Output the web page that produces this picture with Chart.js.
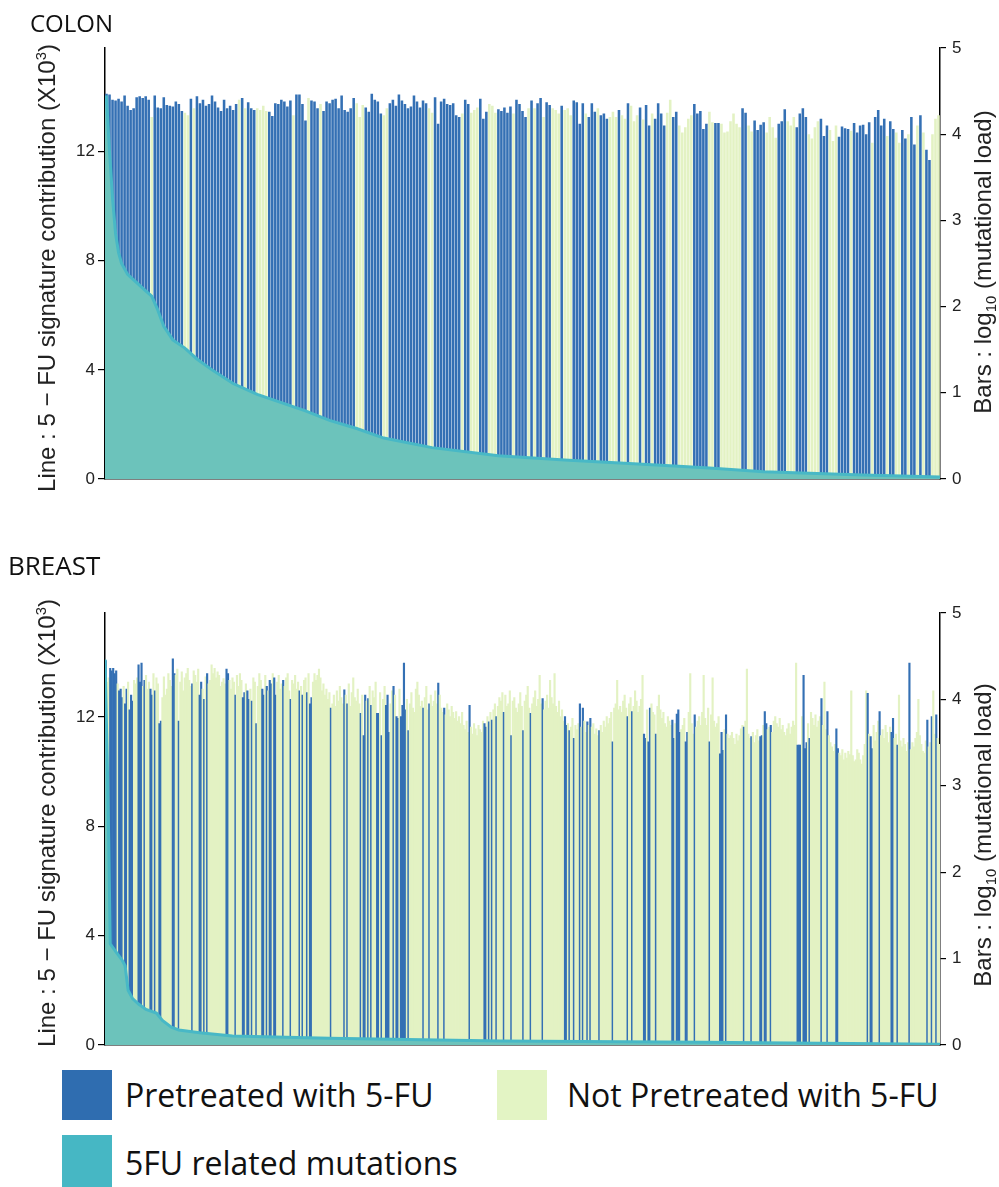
<!DOCTYPE html>
<html>
<head>
<meta charset="utf-8">
<script src="https://cdn.jsdelivr.net/npm/chart.js@4.4.1/dist/chart.umd.min.js"></script>
<style>
  body { margin: 0; width: 999px; height: 1187px; background: #fff; position: relative; overflow: hidden; }
  canvas { position: absolute; left: 0; }
  .panel { position: absolute; font-family: "Open Sans", sans-serif; line-height: 1; color: #111; }
  .ytitle { position: absolute; white-space: nowrap; font-family: "Liberation Sans", Arial, sans-serif; font-size: 24px; line-height: 1; color: #222;
            transform: translate(-50%, -50%) rotate(-90deg); }
  .ytitle sup, .ytitle sub { font-size: 0.62em; }
  .key { position: absolute; width: 50px; height: 50px; }
  .keytext { position: absolute; font-family: "Open Sans", sans-serif; font-size: 32px; line-height: 1; color: #111; white-space: nowrap; transform: translateY(-50%); }
</style>
</head>
<body>
<canvas id="colon" width="999" height="500" style="top:0"></canvas>
<canvas id="breast" width="999" height="501" style="top:565px"></canvas>

<div class="panel" style="left:30px; top:11px; font-size:24px">COLON</div>
<div class="panel" style="left:8px; top:552px; font-size:26px">BREAST</div>

<div class="ytitle" style="left:46px; top:268px">Line : 5 − FU signature contribution (X10<sup>3</sup>)</div>
<div class="ytitle" style="left:985px; top:262px">Bars : log<sub>10</sub> (mutational load)</div>
<div class="ytitle" style="left:46px; top:823px">Line : 5 − FU signature contribution (X10<sup>3</sup>)</div>
<div class="ytitle" style="left:985px; top:835px">Bars : log<sub>10</sub> (mutational load)</div>

<div class="key" style="left:62px; top:1070px; background:#2f6db0"></div>
<div class="keytext" style="left:125px; top:1095px">Pretreated with 5-FU</div>
<div class="key" style="left:497px; top:1070px; background:#e3f4c4"></div>
<div class="keytext" style="left:567px; top:1095px">Not Pretreated with 5-FU</div>
<div class="key" style="left:62px; top:1135px; height:52px; background:#46b7c4"></div>
<div class="keytext" style="left:125px; top:1163px">5FU related mutations</div>

<script>
// axis ticks
var leftTicks = [0, 4, 8, 12];
var rightTicks = [0, 1, 2, 3, 4, 5];

// COLON: log10 mutational load per sample (bars)
var colonLoad = [
  4.47,4.46,4.40,4.39,4.41,4.38,4.45,4.33,4.28,4.30,
  4.43,4.44,4.42,4.44,4.40,4.20,4.45,4.31,4.30,4.43,
  4.34,4.33,4.32,4.38,4.35,4.27,4.25,4.22,4.41,4.30,
  4.44,4.36,4.40,4.33,4.35,4.45,4.38,4.31,4.27,4.40,
  4.30,4.33,4.28,4.35,4.40,4.42,4.30,4.37,4.30,4.28,
  4.30,4.28,4.33,4.27,4.26,4.21,4.36,4.35,4.40,4.38,
  4.32,4.39,4.22,4.46,4.46,4.35,4.16,4.42,4.39,4.38,
  4.30,4.35,4.27,4.38,4.36,4.40,4.41,4.30,4.45,4.28,
  4.26,4.30,4.42,4.36,4.20,4.34,4.31,4.26,4.47,4.40,
  4.38,4.24,4.22,4.30,4.36,4.40,4.33,4.46,4.39,4.35,
  4.30,4.32,4.45,4.38,4.31,4.39,4.36,4.30,4.25,4.43,
  4.12,4.38,4.41,4.35,4.34,4.36,4.22,4.20,4.24,4.40,
  4.35,4.25,4.28,4.31,4.41,4.18,4.26,4.35,4.33,4.25,
  4.29,4.27,4.31,4.25,4.32,4.24,4.40,4.35,4.27,4.20,
  4.30,4.39,4.30,4.36,4.42,4.20,4.37,4.34,4.30,4.28,
  4.24,4.33,4.28,4.30,4.22,4.39,4.37,4.12,4.36,4.24,
  4.20,4.36,4.26,4.30,4.22,4.24,4.18,4.20,4.26,4.20,
  4.28,4.22,4.18,4.36,4.33,4.15,4.22,4.31,4.17,4.34,
  4.10,4.24,4.18,4.36,4.24,4.10,4.25,4.40,4.20,4.26,
  4.10,4.02,4.08,4.18,4.22,4.35,4.24,4.27,4.06,4.12,
  4.26,4.14,4.13,4.13,4.12,4.02,4.03,4.15,4.24,4.12,
  4.08,4.30,4.25,4.10,4.03,4.16,4.05,4.11,4.14,4.02,
  4.20,4.08,3.96,4.12,4.15,4.29,4.15,4.10,4.20,4.08,
  4.24,4.30,4.20,4.00,3.95,4.08,4.15,4.18,3.98,4.10,
  4.05,3.92,4.10,3.97,4.09,4.07,4.06,4.04,4.13,4.02,
  4.10,4.11,4.00,4.14,3.90,4.20,4.28,4.10,4.18,3.98,
  4.15,4.06,4.02,3.90,4.05,3.95,4.00,4.20,3.88,4.10,
  4.22,4.02,3.82,3.70,4.00,4.18,4.22
];
// B = pretreated with 5-FU, g = not pretreated
var colonPretreated =
  "BBBBBBBBBB" + "BBBBBgBBBB" + "BBBBBBggBg" + "BBBBBBBBBB" + "BBBBgBgBBB" +
  "ggggBBBBBB" + "BBgBBBBgBB" + "BgBBBBBBBB" + "BBBgggBBBB" + "BBggBBBBBB" +
  "BBBBBBBggB" + "BBBBBBBBgB" + "BgggBBBggg" + "BBBBBgBBBB" + "gBgBBgBBgg" +
  "gBgggBBBBg" + "BBBgBBBggg" + "BggBgggBgB" + "BgBBBBggBB" + "gggggBBBBB" +
  "ggBBgggggg" + "gBBggBBBBg" + "gggBBBgggB" + "BBBggggBBB" + "gggBBBBgBB" +
  "BBBBgBBBBg" + "BBggBBgBBg" + "BgBBggg";
// 5-FU signature contribution (x10^3) at sample positions
var colonLineIdx = [-0.5, 0, 1, 2, 3, 4, 5, 7, 10, 13, 15, 17, 19, 22, 26, 30, 35, 42, 50, 58, 66, 74, 83, 92, 108, 130, 152, 184, 200, 218, 251, 276.5];
var colonLineVal = [14.0, 14.0, 12.0, 10.3, 9.0, 8.3, 7.9, 7.5, 7.2, 6.9, 6.7, 6.2, 5.6, 5.1, 4.8, 4.4, 4.0, 3.5, 3.1, 2.8, 2.5, 2.15, 1.85, 1.5, 1.15, 0.85, 0.7, 0.5, 0.4, 0.27, 0.15, 0.07];

// BREAST
var breastLoad = [
  4.45,4.20,4.25,4.36,4.33,4.36,4.30,4.33,4.18,4.10,4.12,4.02,4.15,3.95,4.12,4.20,3.88,4.05,3.98,4.22,
  4.18,4.25,4.40,4.20,4.42,4.15,4.22,4.28,4.12,4.20,4.12,4.05,4.30,4.10,4.25,4.18,3.72,3.75,4.02,4.26,
  4.05,4.12,4.30,4.22,4.15,4.47,4.30,4.28,4.35,3.75,4.20,4.32,4.10,4.25,4.30,4.36,4.22,4.15,4.18,4.33,
  4.28,4.20,4.35,4.05,4.20,4.12,4.00,4.26,4.30,4.18,4.22,4.40,4.30,4.36,4.25,4.32,4.28,4.15,4.20,4.24,
  4.18,4.35,4.30,4.22,4.12,4.25,4.20,4.05,4.28,4.15,4.30,4.22,4.02,4.08,4.18,4.10,4.00,4.12,3.98,4.25,
  4.20,3.72,4.15,4.30,4.22,4.12,4.05,4.28,4.15,4.10,4.22,4.18,4.30,4.25,4.05,4.20,4.28,4.12,4.18,4.22,
  4.15,4.25,4.30,4.10,4.00,4.22,4.18,4.28,4.12,4.20,4.10,4.15,4.05,4.22,4.25,4.08,4.30,3.95,4.02,4.20,
  4.30,4.22,4.28,4.35,4.25,4.10,4.18,4.05,4.12,4.00,4.08,3.90,3.95,4.05,3.92,4.10,3.98,4.15,4.02,3.95,
  4.11,4.05,3.95,4.18,3.92,4.08,4.25,4.02,3.98,4.12,3.95,3.84,4.05,3.58,4.05,3.98,4.01,4.15,3.93,4.10,
  4.02,4.20,3.84,3.84,4.08,3.58,4.00,4.15,3.93,4.05,3.62,3.95,4.10,4.15,4.05,3.80,3.78,4.12,3.80,3.93,
  4.42,3.88,4.00,3.64,3.95,4.08,3.90,3.85,4.12,4.20,4.05,3.92,3.98,3.90,4.02,4.15,3.88,3.95,4.05,3.92,
  3.98,4.10,3.95,4.19,4.05,3.90,3.85,3.90,3.82,3.95,3.88,3.80,3.92,3.85,3.78,3.86,3.75,3.80,3.72,3.85,
  3.70,3.65,3.75,3.62,3.93,3.68,3.60,3.72,3.66,3.58,3.70,3.65,3.62,3.75,3.72,3.68,3.80,3.74,3.85,3.76,
  3.88,3.95,3.80,3.92,4.02,3.98,4.08,3.85,4.05,3.92,3.95,4.10,3.58,3.98,4.02,3.90,3.85,3.95,4.08,3.92,
  3.64,3.98,4.05,4.15,3.90,3.84,3.95,4.02,4.10,3.92,4.00,4.28,3.95,4.01,3.88,3.98,4.05,3.90,4.22,4.02,
  3.95,4.30,3.92,3.85,3.98,3.80,3.88,3.75,3.80,3.70,3.72,3.64,3.68,3.78,3.55,3.70,3.65,3.72,3.95,3.68,
  3.90,3.75,3.62,3.74,3.70,3.78,3.68,3.72,3.60,3.66,3.58,3.64,3.70,3.62,3.75,3.68,3.80,3.72,3.78,3.85,
  3.51,3.90,3.95,4.22,3.88,3.92,3.85,3.98,4.05,3.90,3.80,3.95,4.02,3.86,3.92,4.10,3.98,3.85,3.92,4.00,
  4.28,3.60,3.55,3.88,3.51,3.90,3.95,3.85,3.82,3.60,3.92,4.05,3.88,3.78,3.85,3.72,3.68,3.80,3.75,3.70,
  3.76,3.55,3.72,3.83,3.88,3.62,3.65,3.70,3.78,3.51,3.62,3.85,4.30,3.72,3.60,3.82,3.68,3.75,3.80,3.70,
  3.85,4.28,3.78,3.70,3.90,3.51,3.82,4.25,3.75,3.68,3.72,3.80,3.37,3.62,3.41,3.65,3.82,3.60,3.55,3.58,
  3.62,3.55,3.48,3.60,3.52,3.58,3.66,3.70,3.68,3.75,4.35,3.60,3.55,3.57,3.62,3.50,3.58,3.65,3.52,3.57,
  3.58,3.70,3.86,3.72,3.65,3.68,3.70,3.62,3.75,3.80,3.72,3.68,3.78,3.65,3.70,3.62,3.58,3.66,3.72,3.60,
  3.68,3.75,3.70,4.42,3.47,3.47,3.47,3.80,4.28,3.43,3.50,3.72,3.55,3.85,3.78,3.70,3.82,3.68,3.75,3.80,
  4.01,3.70,4.20,3.65,3.86,3.58,3.50,3.45,3.40,3.48,3.66,3.43,3.38,3.35,3.42,3.30,3.38,3.32,3.40,3.36,
  4.10,3.35,3.28,3.30,3.42,3.38,3.30,3.25,3.35,3.48,4.10,4.07,3.60,3.57,3.43,3.70,3.52,3.62,3.75,3.86,
  3.58,3.65,3.55,3.70,3.62,3.50,3.68,3.62,3.78,3.55,3.60,3.47,4.05,3.52,3.45,3.55,3.48,3.40,3.50,4.42,
  3.42,3.50,3.45,3.55,3.62,4.00,3.58,3.48,3.40,3.38,3.52,3.76,3.45,3.50,3.80,4.10,3.60,3.82,3.55,3.48
];
var breastPretreated =
  "BggBBBBBgBBBgBBgBBBg" + "ggBBBgBgggBBgBggBBgg" + "gggggBBggBggggggggBg" + "gggBBgBgBggggggggggg" +
  "gBBggggBggggBBgBBgBg" + "gBgggBBgBgBBgBBggggB" + "ggggBgggggBgBggBgBBg" + "gggggggggggBgggggggg" +
  "BgBggggggggBgBBgBgBg" + "ggBBgBggBBBggBgBBgBB" + "BBgBgggggggggBgggBgg" + "gggBgggBgggggggggggg" +
  "ggggBgggggggggBBgBgB" + "ggBggggBggggBggggggg" + "BggggBgggggggBgggggg" + "ggggggggBBgBggBgggBg" +
  "BggBgBgggggBgggggggg" + "BgggggggggBggBgggggg" + "gBBgBBgggBgggggggggg" + "BBgBBBgggBBggggBgggg" +
  "gggggBggggggBBBgBggg" + "ggggggggBggggBgggggB" + "BgBBggBggggggggggggg" + "ggggBBBgBBBgBggggggg" +
  "BgggBgggggBBgggggggg" + "gggggggggggBgBBggggB" + "gggggggBBggBgggggggB" + "gggggggggggBggBggBgg";
var breastLineIdx = [-0.5, 0, 1, 2, 3, 7, 11, 13, 15, 18, 22, 27, 34, 38, 44, 49, 63, 85, 150, 265, 400, 559.5];
var breastLineVal = [14.1, 14.1, 10.5, 7.5, 3.7, 3.4, 3.1, 2.9, 2.0, 1.7, 1.5, 1.3, 1.17, 0.9, 0.65, 0.55, 0.45, 0.33, 0.25, 0.15, 0.10, 0.03];

var BLUE = '#3470b4';
var GREEN = '#e3f2c3';
var TEAL_FILL = '#6cc3bb';
var TEAL_EDGE = '#48b8c6';
var LEFT_MAX = 15.8;

function makePanel(id, loads, flags, lineIdx, lineVal, barPct) {
  var bars = loads.map(function (v, i) { return { x: i, y: v }; });
  var colours = flags.split('').map(function (f) { return f === 'B' ? BLUE : GREEN; });
  var area = lineIdx.map(function (x, k) { return { x: x, y: lineVal[k] }; });
  var n = loads.length;
  return new Chart(document.getElementById(id), {
    data: {
      datasets: [{
        type: 'line',
        label: '5FU related mutations',
        data: area,
        yAxisID: 'yL',
        fill: 'origin',
        backgroundColor: TEAL_FILL,
        borderColor: TEAL_EDGE,
        borderWidth: 3,
        pointRadius: 0,
        tension: 0,
        order: 0
      }, {
        type: 'bar',
        label: 'mutational load',
        data: bars,
        yAxisID: 'yR',
        backgroundColor: colours,
        borderWidth: 0,
        barPercentage: barPct,
        categoryPercentage: 1,
        order: 1
      }]
    },
    options: {
      responsive: false,
      animation: false,
      devicePixelRatio: 1,
      layout: { padding: { top: 48, left: 0, right: 0, bottom: 0 } },
      plugins: { legend: { display: false }, tooltip: { enabled: false } },
      scales: {
        x: {
          type: 'linear',
          offset: false,
          min: -0.5,
          max: n - 0.5,
          afterBuildTicks: function (s) { s.ticks = [{ value: -0.5 }, { value: n - 0.5 }]; },
          ticks: { display: false },
          grid: { display: false },
          border: { color: '#000', width: 1.5 },
          afterFit: function (s) { s.height = 21; }
        },
        yL: {
          position: 'left',
          min: 0,
          max: LEFT_MAX,
          afterBuildTicks: function (s) { s.ticks = leftTicks.map(function (v) { return { value: v }; }); },
          ticks: { color: '#222', padding: 3, font: { family: 'Liberation Sans', size: 17 } },
          grid: { display: true, drawOnChartArea: false, drawTicks: true, tickLength: 7, color: '#000', lineWidth: 1.2 },
          border: { color: '#000', width: 1.5 },
          afterFit: function (s) { s.width = 105; }
        },
        yR: {
          position: 'right',
          min: 0,
          max: 5,
          afterBuildTicks: function (s) { s.ticks = rightTicks.map(function (v) { return { value: v }; }); },
          ticks: { color: '#222', padding: 6, font: { family: 'Liberation Sans', size: 17 } },
          grid: { display: true, drawOnChartArea: false, drawTicks: true, tickLength: 6, color: '#000', lineWidth: 1.2 },
          border: { color: '#000', width: 1.5 },
          afterFit: function (s) { s.width = 59; }
        }
      }
    }
  });
}

makePanel('colon', colonLoad, colonPretreated, colonLineIdx, colonLineVal, 0.85);
makePanel('breast', breastLoad, breastPretreated, breastLineIdx, breastLineVal, 1);
</script>
</body>
</html>
